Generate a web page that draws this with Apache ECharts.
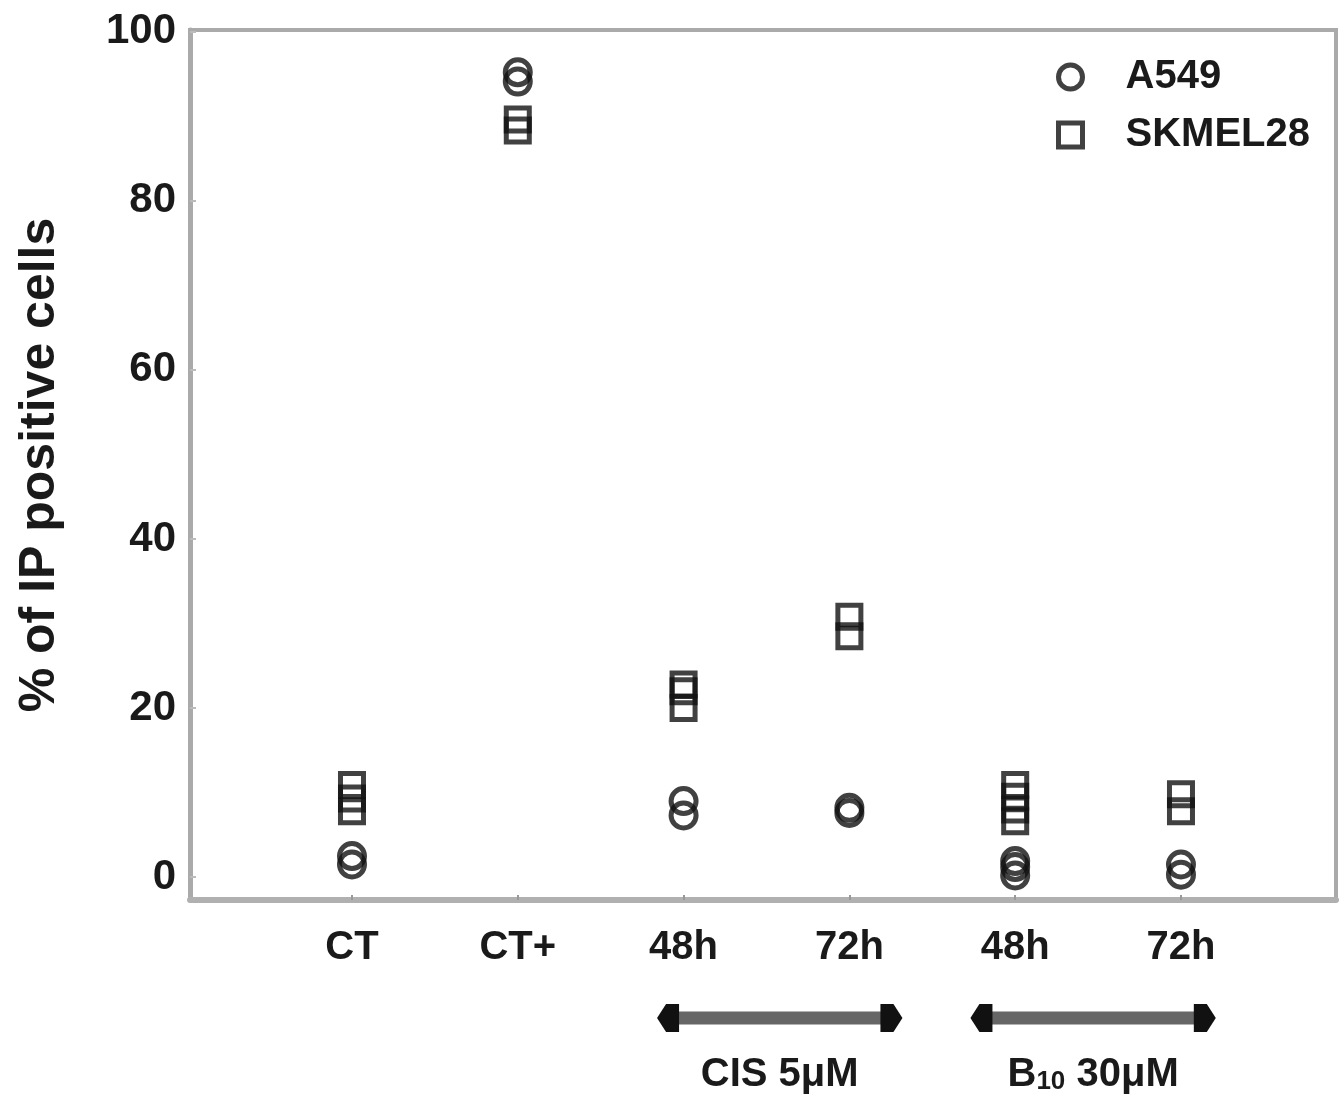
<!DOCTYPE html>
<html>
<head>
<meta charset="utf-8">
<title>IP positive cells</title>
<script src="https://cdn.jsdelivr.net/npm/echarts@6/dist/echarts.min.js"></script>
<style>
  html, body { margin: 0; padding: 0; background: #fff; }
  #main { width: 1339px; height: 1098px; }
</style>
</head>
<body>
<div id="main"></div>
<script>
// category labels along the x axis (positions 1..6)
const categories = ['CT', 'CT+', '48h', '72h', '48h', '72h']
const yTicks = [0, 20, 40, 60, 80, 100]

// replicate values per category
const a549 = [
  [1.5, 2.5],
  [94.1, 95.2],
  [7.3, 9.0],
  [7.6, 8.2],
  [0.2, 1.2, 1.9],
  [0.3, 1.5]
]
const skmel28 = [
  [7.8, 9.3, 10.9],
  [88.3, 89.6],
  [20.0, 22.0, 22.8],
  [28.5, 30.8],
  [6.6, 8.0, 9.5, 10.9],
  [7.8, 9.8]
]

// treatment groups drawn under the axis: [from, to] on the x scale
const groups = [
  { label: 'CIS 5μM', span: [2.84, 4.32] },
  { label: '{b|B}{s|10} 30μM', span: [4.73, 6.21] }
]

const FONT = 'Liberation Sans'
const INK = '#1a1a1a'

function toPoints (rows) {
  const out = []
  rows.forEach((vals, i) => {
    vals.forEach(v => out.push([i + 1, v]))
  })
  return out
}

const chart = echarts.init(document.getElementById('main'))

const markerStyle = {
  color: 'rgba(0,0,0,0)',
  borderColor: '#111',
  borderWidth: 5
}

chart.setOption({
  animation: false,
  grid: {
    left: 190,
    right: 3,
    top: 30,
    bottom: 198,
    show: true,
    borderColor: '#aaa',
    borderWidth: 4
  },
  legend: {
    orient: 'vertical',
    left: 1051,
    top: 51,
    itemWidth: 24,
    itemHeight: 24,
    itemGap: 16,
    itemStyle: { borderWidth: 5, borderColor: '#111' },
    textStyle: {
      fontFamily: FONT,
      fontWeight: 'bold',
      fontSize: 40,
      lineHeight: 42,
      color: INK,
      padding: [0, 0, 0, 38]
    },
    data: ['A549', 'SKMEL28']
  },
  xAxis: {
    type: 'value',
    min: 0.023,
    max: 6.935,
    splitLine: { show: false },
    axisLine: { show: true, onZero: false, lineStyle: { color: '#b0b0b0', width: 6 } },
    axisTick: {
      show: true,
      inside: true,
      length: 5,
      customValues: [1, 2, 3, 4, 5, 6],
      lineStyle: { color: '#999', width: 2 }
    },
    axisLabel: {
      customValues: [1, 2, 3, 4, 5, 6],
      formatter: v => categories[Math.round(v) - 1],
      margin: 28,
      fontFamily: FONT,
      fontWeight: 'bold',
      fontSize: 40,
      color: INK
    }
  },
  yAxis: {
    type: 'value',
    min: -2.7,
    max: 100.2,
    name: '% of IP positive cells',
    nameLocation: 'middle',
    nameRotate: 90,
    nameGap: 125,
    nameTextStyle: {
      fontFamily: FONT,
      fontWeight: 'bold',
      fontSize: 50,
      color: INK
    },
    splitLine: { show: false },
    axisLine: { show: true, onZero: false, lineStyle: { color: '#aaa', width: 5 } },
    axisTick: {
      show: true,
      inside: true,
      length: 6,
      customValues: yTicks,
      lineStyle: { color: '#bbb', width: 2 }
    },
    axisLabel: {
      customValues: yTicks,
      margin: 14,
      fontFamily: FONT,
      fontWeight: 'bold',
      fontSize: 42,
      color: INK
    }
  },
  series: [
    {
      name: 'A549',
      type: 'scatter',
      symbol: 'circle',
      symbolSize: 25,
      itemStyle: markerStyle,
      data: toPoints(a549)
    },
    {
      name: 'SKMEL28',
      type: 'scatter',
      symbol: 'rect',
      symbolSize: 23,
      itemStyle: markerStyle,
      data: toPoints(skmel28)
    }
  ]
})

// double arrows + labels under the axis, placed through the x scale
const lineY = 1018
const textY = 1075
const elements = []
groups.forEach(g => {
  const x0 = chart.convertToPixel({ gridIndex: 0 }, [g.span[0], 0])[0]
  const x1 = chart.convertToPixel({ gridIndex: 0 }, [g.span[1], 0])[0]
  elements.push({
    type: 'line',
    shape: { x1: x0 + 12, y1: lineY, x2: x1 - 12, y2: lineY },
    style: { stroke: '#666', lineWidth: 13 }
  })
  elements.push({
    type: 'polygon',
    shape: { points: [[x0, lineY], [x0 + 9, lineY - 14], [x0 + 22, lineY - 14], [x0 + 22, lineY + 14], [x0 + 9, lineY + 14]] },
    style: { fill: '#111' }
  })
  elements.push({
    type: 'polygon',
    shape: { points: [[x1, lineY], [x1 - 9, lineY - 14], [x1 - 22, lineY - 14], [x1 - 22, lineY + 14], [x1 - 9, lineY + 14]] },
    style: { fill: '#111' }
  })
  elements.push({
    type: 'text',
    x: (x0 + x1) / 2,
    y: textY,
    style: {
      text: g.label,
      align: 'center',
      verticalAlign: 'middle',
      fontFamily: FONT,
      fontWeight: 'bold',
      fontSize: 40,
      fill: INK,
      rich: {
        b: { fontFamily: FONT, fontWeight: 'bold', fontSize: 40, fill: INK },
        s: { fontFamily: FONT, fontWeight: 'bold', fontSize: 26, fill: INK, verticalAlign: 'bottom' }
      }
    }
  })
})
chart.setOption({ graphic: { elements: elements } })
</script>
</body>
</html>
